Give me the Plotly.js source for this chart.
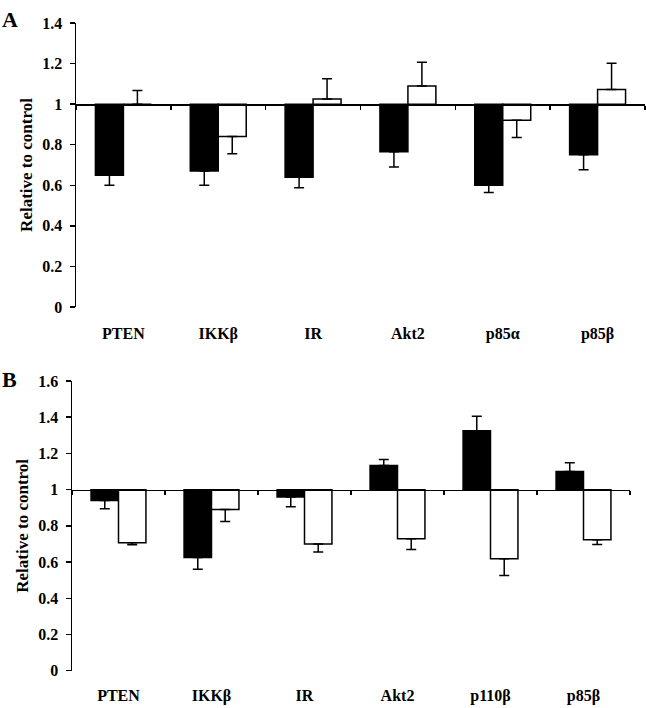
<!DOCTYPE html>
<html>
<head>
<meta charset="utf-8">
<script src="https://cdn.plot.ly/plotly-3.0.1.min.js"></script>
<style>
  html, body { margin: 0; padding: 0; background: #fff; }
  #chart { width: 646px; height: 708px; }
</style>
</head>
<body>
<div id="chart"></div>
<script>
// Panel A
const catsA = ['PTEN', 'IKKβ', 'IR', 'Akt2', 'p85α', 'p85β'];
const blackA = [0.65, 0.67, 0.64, 0.765, 0.60, 0.75];
const blackAErr = [0.05, 0.07, 0.052, 0.075, 0.036, 0.073];
const whiteA = [1.0, 0.84, 1.025, 1.09, 0.92, 1.072];
const whiteAErr = [0.067, 0.085, 0.10, 0.117, 0.085, 0.13];

// Panel B
const catsB = ['PTEN', 'IKKβ', 'IR', 'Akt2', 'p110β', 'p85β'];
const blackB = [0.94, 0.625, 0.96, 1.134, 1.325, 1.10];
const blackBErr = [0.045, 0.065, 0.055, 0.033, 0.08, 0.048];
const whiteB = [0.707, 0.89, 0.70, 0.729, 0.618, 0.723];
const whiteBErr = [0.012, 0.066, 0.045, 0.06, 0.092, 0.026];

const serif = '"Liberation Serif", "Times New Roman", serif';

// bars start at 1 (control), error bar goes away from 1
function barTrace(cats, vals, errs, fill, xa, ya) {
    return {
        type: 'bar',
        x: cats,
        y: vals.map(v => v - 1),
        base: 1,
        xaxis: xa,
        yaxis: ya,
        marker: { color: fill, line: { color: '#000', width: 1.5 } },
        error_y: {
            type: 'data',
            symmetric: false,
            array: vals.map((v, i) => v >= 1 ? errs[i] : 0),
            arrayminus: vals.map((v, i) => v < 1 ? errs[i] : 0),
            color: '#000',
            thickness: 1.5,
            width: 5
        },
        hoverinfo: 'skip',
        showlegend: false
    };
}

const traces = [
    barTrace(catsA, blackA, blackAErr, '#000', 'x', 'y'),
    barTrace(catsA, whiteA, whiteAErr, '#fff', 'x', 'y'),
    barTrace(catsB, blackB, blackBErr, '#000', 'x2', 'y2'),
    barTrace(catsB, whiteB, whiteBErr, '#fff', 'x2', 'y2')
];

const domAx = [76 / 646, 645 / 646];
const domAy = [(708 - 307) / 708, (708 - 23) / 708];
const domBx = [72 / 646, 630 / 646];
const domBy = [(708 - 670.7) / 708, (708 - 381) / 708];
const rangeA = [0, 1.4];
const rangeB = [0, 1.6];

// x axis line sits at y = 1
const posA = domAy[0] + (1 - rangeA[0]) / (rangeA[1] - rangeA[0]) * (domAy[1] - domAy[0]);
const posB = domBy[0] + (1 - rangeB[0]) / (rangeB[1] - rangeB[0]) * (domBy[1] - domBy[0]);

const tickFont = { family: serif, size: 16, color: '#000', weight: 'bold' };

function xAxis(dom, pos, standoff) {
    return {
        domain: dom,
        anchor: 'free',
        position: pos,
        type: 'category',
        range: [-0.5, 5.5],
        showline: true,
        linecolor: '#000',
        linewidth: 1.5,
        ticks: 'outside',
        ticklen: 4,
        tickwidth: 1.5,
        tickcolor: '#000',
        tickson: 'boundaries',
        ticklabelstandoff: standoff,
        tickfont: tickFont,
        showgrid: false,
        zeroline: false,
        fixedrange: true
    };
}

function yAxis(dom, range, anchor) {
    return {
        domain: dom,
        anchor: anchor,
        range: range,
        dtick: 0.2,
        showline: true,
        linecolor: '#000',
        linewidth: 1.5,
        ticks: 'outside',
        ticklen: 5,
        tickwidth: 1.5,
        tickcolor: '#000',
        ticklabelstandoff: 4,
        tickfont: tickFont,
        showgrid: false,
        zeroline: false,
        fixedrange: true,
        title: {
            text: 'Relative to control',
            font: { family: serif, size: 17, color: '#000', weight: 'bold' },
            standoff: 5
        }
    };
}

const layout = {
    width: 646,
    height: 708,
    margin: { l: 0, r: 0, t: 0, b: 0 },
    paper_bgcolor: '#fff',
    plot_bgcolor: '#fff',
    barmode: 'group',
    bargap: 0.41,
    bargroupgap: 0,
    xaxis: xAxis(domAx, posA, 214),
    yaxis: yAxis(domAy, rangeA, 'x'),
    xaxis2: xAxis(domBx, posB, 191),
    yaxis2: yAxis(domBy, rangeB, 'x2'),
    annotations: [
        { text: 'A', xref: 'paper', yref: 'paper', x: 0, y: 1 - 5 / 708, xanchor: 'left', yanchor: 'top',
          showarrow: false, font: { family: serif, size: 22, color: '#000', weight: 'bold' } },
        { text: 'B', xref: 'paper', yref: 'paper', x: 0, y: 1 - 365 / 708, xanchor: 'left', yanchor: 'top',
          showarrow: false, font: { family: serif, size: 22, color: '#000', weight: 'bold' } }
    ]
};

window.Plotly.newPlot('chart', traces, layout, { staticPlot: true, displayModeBar: false });
</script>
</body>
</html>
